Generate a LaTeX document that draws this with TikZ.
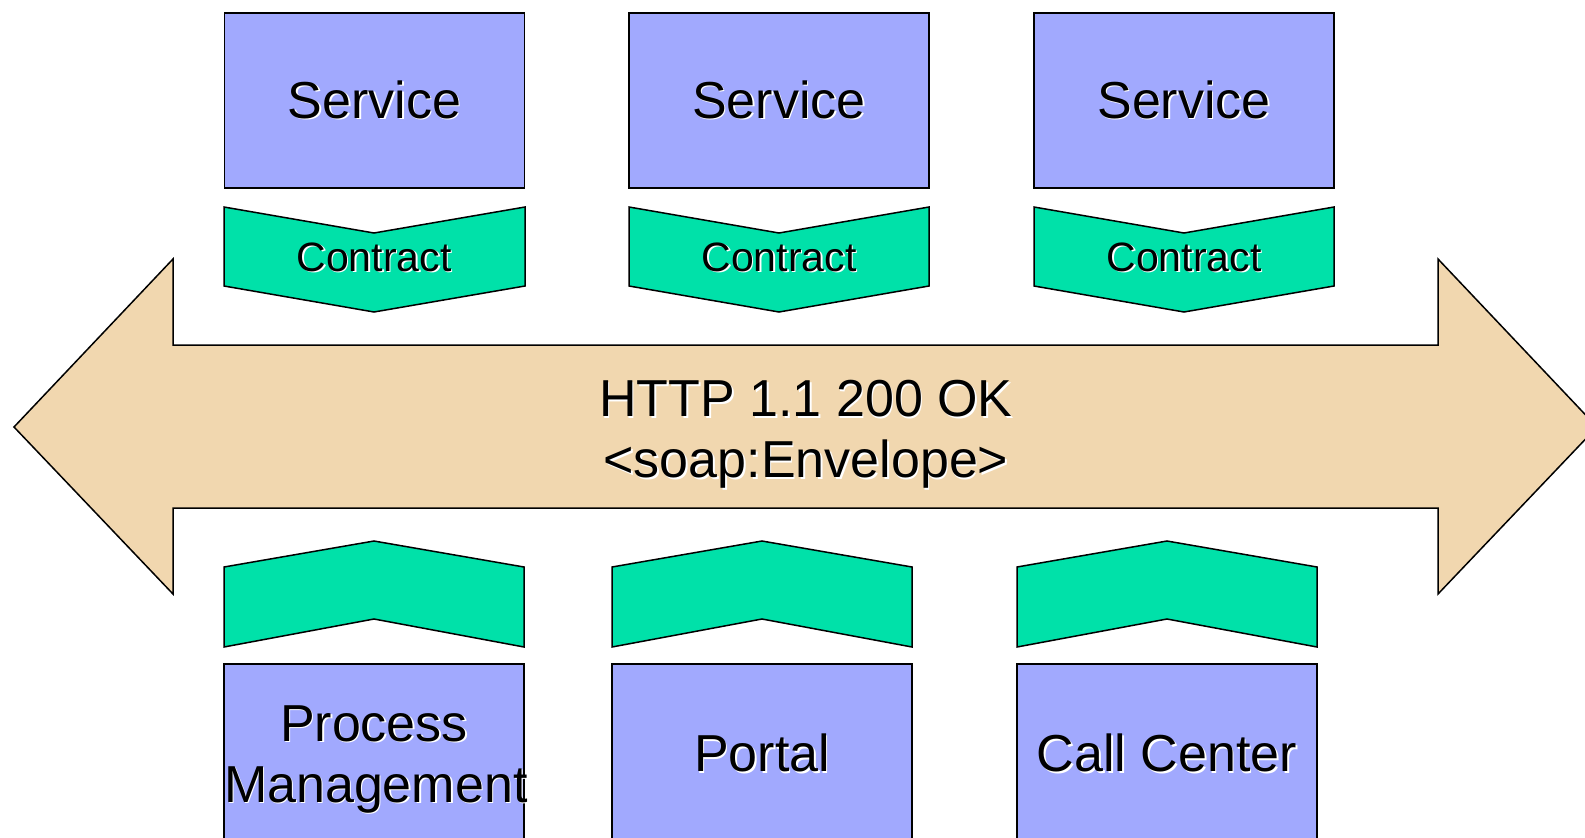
\documentclass[tikz,border=0pt]{standalone}
\usepackage{fontspec}
\setmainfont{Liberation Sans}
\usepackage{xcolor}
\usetikzlibrary{calc}

\definecolor{servicefill}{RGB}{161,169,254}
\definecolor{contractfill}{RGB}{0,225,169}
\definecolor{busfill}{RGB}{241,215,175}

% text with a white drop shadow
\newcommand{\shadowed}[1]{\makebox[0pt][l]{\raisebox{-1.6pt}{\hspace{1.6pt}\textcolor{white}{#1}}}#1}

\tikzset{
  servicebox/.style={draw=black, line width=1.5pt, fill=servicefill, rectangle,
    minimum width=300pt, minimum height=175pt, inner sep=0pt,
    font=\fontsize{52}{61}\selectfont, align=center},
  clientbox/.style={servicebox, minimum height=180pt},
  contract/.style={draw=black, line width=1.5pt, fill=contractfill, line join=miter},
  contractlabel/.style={font=\fontsize{41}{45}\selectfont, inner sep=0pt},
  bus/.style={draw=black, line width=1.5pt, fill=busfill, line join=miter},
  buslabel/.style={font=\fontsize{52}{61}\selectfont, align=center, inner sep=0pt}
}

\begin{document}
\begin{tikzpicture}[x=1pt, y=-1pt]
    \useasboundingbox (0,0) rectangle (1585,838);
    \clip (0,0) rectangle (1585,838);

    % Message bus (double arrow)
    \draw[bus] (14,427) -- (173,259) -- (173,345) -- (1438,345) -- (1438,259)
        -- (1597,427) -- (1438,594) -- (1438,508) -- (173,508) -- (173,594) -- cycle;
    \node[buslabel] (msg) at (806,435) {\shadowed{HTTP 1.1 200 OK}\\\shadowed{<soap:Envelope>}};

    % Services at the top
    \node[servicebox] (s1) at (374.5,100.5) {\raisebox{-2pt}{\shadowed{Service}}};
    \node[servicebox] (s2) at (779,100.5) {\raisebox{-2pt}{\shadowed{Service}}};
    \node[servicebox] (s3) at (1184,100.5) {\raisebox{-2pt}{\shadowed{Service}}};

    % Their contracts
    \draw[contract] (224,207) -- (374,233) -- (525,207) -- (525,286) -- (374,312) -- (224,286) -- cycle;
    \draw[contract] (629,207) -- (779,233) -- (929,207) -- (929,286) -- (779,312) -- (629,286) -- cycle;
    \draw[contract] (1034,207) -- (1184,233) -- (1334,207) -- (1334,286) -- (1184,312) -- (1034,286) -- cycle;
    \node[contractlabel] (c1) at (374,258) {\shadowed{Contract}};
    \node[contractlabel] (c2) at (779,258) {\shadowed{Contract}};
    \node[contractlabel] (c3) at (1184,258) {\shadowed{Contract}};

    % Consumers' contracts
    \draw[contract] (224,567) -- (374,541) -- (524,567) -- (524,647) -- (374,619) -- (224,647) -- cycle;
    \draw[contract] (612,567) -- (762,541) -- (912,567) -- (912,647) -- (762,619) -- (612,647) -- cycle;
    \draw[contract] (1017,567) -- (1167,541) -- (1317,567) -- (1317,647) -- (1167,619) -- (1017,647) -- cycle;

    % Consumers at the bottom (boxes run off the page)
    \node[clientbox, minimum height=192pt, text width=300pt] (pm) at (374,760) {\shadowed{Process}\\\shadowed{Management}};
    \node[clientbox] (portal) at (762,754) {\shadowed{Portal}};
    \node[clientbox] (cc) at (1167,754) {\shadowed{Call Center}};
\end{tikzpicture}
\end{document}
